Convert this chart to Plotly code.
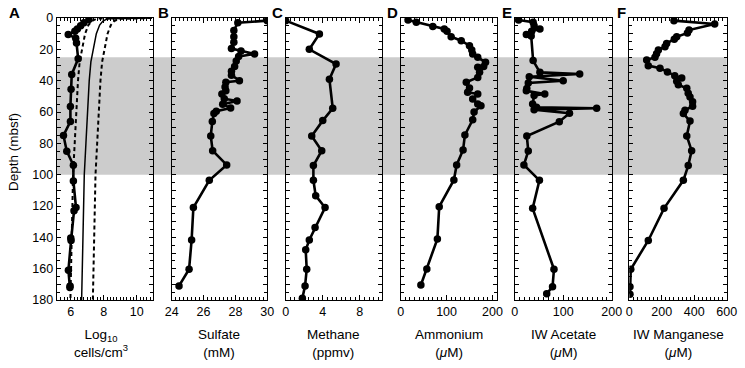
import plotly.graph_objects as go

# ---------------- data ----------------
# Panel A: cell counts (log10 cells/cm3)
cells_depth = [1.0, 3.0, 5.0, 7.0, 8.5, 10.5, 13.0, 16.0, 26.0, 36.0, 45.5, 56.5, 66.0, 75.0, 85.0,
               94.0, 104.0, 121.0, 123.0, 140.5, 142.0, 161.0, 171.0, 172.0]
cells_val = [7.1, 6.8, 6.6, 6.4, 6.25, 5.85, 6.3, 6.35, 6.45, 6.06, 6.02, 5.98, 5.98, 5.56, 5.76,
             6.16, 6.16, 6.32, 6.2, 6.0, 6.02, 5.86, 5.96, 5.95]
# regression line and prediction limits
reg_depth = [0, 0.4, 2, 4.5, 10, 20, 28, 40, 60, 80, 100, 140, 180]
reg_mid = [10.9, 8.25, 7.95, 7.75, 7.55, 7.35, 7.22, 7.12, 7.0, 6.92, 6.82, 6.73, 6.66]
reg_upper = [10.9, 8.95, 8.63, 8.43, 8.23, 8.03, 7.9, 7.8, 7.68, 7.6, 7.5, 7.41, 7.34]
reg_lower = [10.9, 7.57, 7.27, 7.07, 6.87, 6.67, 6.54, 6.44, 6.32, 6.24, 6.14, 6.05, 5.98]

# Panel B: sulfate (mM)
sulfate_depth = [1.7, 3, 8, 12, 15.5, 19.5, 21, 23, 24.5, 27.5, 31, 34, 36.5, 40, 41, 44, 46.5, 48.5,
                 51.5, 53, 55, 57.5, 59.5, 61, 66, 75.3, 84.7, 93.8, 103.6, 121, 141.7, 160.4, 171]
sulfate_val = [30.0, 28.15, 27.9, 27.9, 27.9, 27.75, 28.35, 29.2, 28.2, 28.05, 27.95, 27.75, 27.75,
               28.25, 27.4, 27.35, 27.4, 27.15, 27.3, 28.1, 27.2, 27.7, 26.8, 26.65, 26.55, 26.45,
               26.57, 27.45, 26.36, 25.36, 25.25, 25.09, 24.46]

# Panel C: methane (ppmv)
methane_depth = [1.7, 10.2, 20, 29.4, 39.1, 57.6, 65.5, 75.3, 84.7, 94.2, 103.6, 113.4, 121, 133.8,
                 141.7, 148, 160.4, 171, 178.9]
methane_val = [0.0, 3.64, 2.55, 5.44, 4.72, 5.08, 4.0, 2.81, 3.89, 2.99, 2.99, 3.24, 4.25, 3.17,
               2.55, 2.16, 2.27, 2.09, 1.8]

# Panel D: ammonium (uM)
ammonium_depth = [1.3, 2.7, 5.5, 7, 8.5, 11.9, 14.5, 17.7, 20.4, 23, 25.1, 28.3, 31, 31.5, 34.7, 37.9,
                  41, 44.7, 47.4, 48.5, 51.7, 54.9, 56, 60, 65, 74.7, 84.2, 93.8, 103.4, 120.4, 141,
                  160.2, 170.4]
ammonium_val = [16, 34, 70, 95, 101, 110, 132, 150, 155, 157, 168, 185, 181, 168, 172, 168, 143, 150,
                146, 168, 157, 168, 175, 160, 157, 140, 136, 122, 116, 84, 80, 57, 44]

# Panel E: IW acetate (uM)
acetate_depth = [1.3, 2.7, 5, 7, 8.5, 10.6, 11.5, 27.2, 34.7, 35.7, 37.5, 40.1, 41.5, 45, 46.5, 48.5,
                 49.5, 54.9, 57, 57.6, 58.5, 60.8, 66.2, 75.3, 84.9, 93.8, 103.6, 121.5, 160.4, 171.5,
                 176]
acetate_val = [8, 38, 40, 52, 35, 24, 34, 38, 52, 134, 30, 100, 28, 25, 24, 62, 40, 37, 45, 169, 40,
               113, 92, 25, 28, 19, 51, 37, 81, 78, 66]

# Panel F: IW manganese (uM)
manganese_depth = [1.7, 3.8, 7.7, 9.5, 12, 13.5, 16.2, 18.3, 20.4, 22.8, 25, 26.8, 30.4, 32, 34.5,
                   36.8, 38.3, 40.3, 42.6, 44.9, 48, 50.5, 53.5, 56.3, 58.9, 61, 65.8, 75.3, 84.7,
                   94.2, 103.6, 121.5, 142, 160.4, 171.5, 176.3]
manganese_val = [275, 526, 368, 358, 292, 277, 230, 220, 179, 168, 158, 107, 117, 189, 235, 280, 323,
                 292, 302, 354, 363, 374, 390, 390, 343, 333, 374, 354, 384, 363, 333, 214, 117, 9,
                 4, 4]

panel_letters = ["A", "B", "C", "D", "E", "F"]
x_titles = ["Log<sub>10</sub><br>cells/cm<sup>3</sup>", "Sulfate<br>(mM)", "Methane<br>(ppmv)",
            "Ammonium<br>(<i>μ</i>M)", "IW Acetate<br>(<i>μ</i>M)", "IW Manganese<br>(<i>μ</i>M)"]
x_ranges = [[5.15, 11], [24, 30], [0, 10.4], [0, 210], [0, 200], [0, 600]]
x_dticks = [2, 2, 4, 100, 100, 200]
x_minor = [0.2, 0.25, 0.5, 10, 10, 25]
shade_band = [25, 100]
depth_range = [180, 0]

# ---------------- layout helpers ----------------
W, H = 745, 368
px_left = [56.7, 171.7, 285.7, 400.7, 514.7, 629.3]
px_right = [153.3, 267.3, 382.0, 497.0, 611.7, 726.7]
py_top, py_bot = 18, 300
FONT = "Liberation Sans, Arial, Helvetica, sans-serif"

fig = go.Figure()

def add_series(i, x, y, **kw):
    fig.add_trace(go.Scatter(x=x, y=y, xaxis="x" if i == 0 else f"x{i+1}",
                             yaxis="y" if i == 0 else f"y{i+1}", showlegend=False,
                             cliponaxis=True, **kw))

dot = dict(mode="lines+markers", line=dict(color="black", width=2.6),
           marker=dict(color="black", size=7.5))

# panel A curves
add_series(0, reg_lower, reg_depth, mode="lines", line=dict(color="black", width=2, dash="4px,3px"))
add_series(0, reg_upper, reg_depth, mode="lines", line=dict(color="black", width=2, dash="4px,3px"))
add_series(0, reg_mid, reg_depth, mode="lines", line=dict(color="black", width=1.5))
add_series(0, cells_val, cells_depth, **dot)
add_series(1, sulfate_val, sulfate_depth, **dot)
add_series(2, methane_val, methane_depth, **dot)
add_series(3, ammonium_val, ammonium_depth, **dot)
add_series(4, acetate_val, acetate_depth, **dot)
add_series(5, manganese_val, manganese_depth, **dot)

layout = dict(width=W, height=H, margin=dict(l=0, r=0, t=0, b=0, autoexpand=False),
              paper_bgcolor="white", plot_bgcolor="rgba(0,0,0,0)",
              font=dict(family=FONT, size=12, color="black"), showlegend=False)

ydom = [1 - py_bot / H, 1 - py_top / H]
annotations = []
for i in range(6):
    xs = "xaxis" if i == 0 else f"xaxis{i+1}"
    ys = "yaxis" if i == 0 else f"yaxis{i+1}"
    layout[xs] = dict(domain=[px_left[i] / W, px_right[i] / W], range=x_ranges[i],
                      anchor="y" if i == 0 else f"y{i+1}", automargin=False,
                      dtick=x_dticks[i], tick0=0, ticks="inside", ticklen=5, tickwidth=1,
                      tickcolor="black", showline=True, linecolor="black", linewidth=1,
                      mirror="allticks", showgrid=False, zeroline=False,
                      tickfont=dict(size=12.5, family=FONT),
                      minor=dict(dtick=x_minor[i], ticks="inside", ticklen=3, tickwidth=1,
                                 tickcolor="black", showgrid=False))
    layout[ys] = dict(domain=ydom, range=depth_range, anchor="x" if i == 0 else f"x{i+1}",
                      automargin=False,
                      dtick=10, tick0=0, ticklabelstep=2, ticks="inside", ticklen=4, tickwidth=1,
                      tickcolor="black", showline=True, linecolor="black", linewidth=1,
                      mirror="allticks", showgrid=False, zeroline=False,
                      showticklabels=(i == 0), tickfont=dict(size=12.5, family=FONT),
                      minor=dict(dtick=5, ticks="inside", ticklen=3, tickwidth=1,
                                 tickcolor="black", showgrid=False))
    # panel letter
    annotations.append(dict(text=f"<b>{panel_letters[i]}</b>", xref="paper", yref="paper",
                            x=(px_left[i] - 1) / W if i > 0 else 15 / W, y=1 - 13 / H,
                            xanchor="right" if i > 0 else "center", yanchor="middle",
                            showarrow=False, font=dict(size=15, family=FONT)))
    # x title
    cx = (px_left[i] + px_right[i]) / 2 if i > 0 else 101
    annotations.append(dict(text=x_titles[i], xref="paper", yref="paper", x=cx / W,
                            y=1 - 325 / H, xanchor="center", yanchor="top", showarrow=False,
                            font=dict(size=13.5, family=FONT)))

annotations.append(dict(text="Depth (mbsf)", xref="paper", yref="paper", x=13 / W,
                        y=1 - 152 / H, textangle=-90, xanchor="center", yanchor="middle",
                        showarrow=False, font=dict(size=13.5, family=FONT)))
layout["annotations"] = annotations
layout["shapes"] = [dict(type="rect", xref="paper", yref="y", x0=px_left[0] / W, x1=px_right[5] / W,
                         y0=shade_band[0], y1=shade_band[1], fillcolor="#cccccc",
                         line=dict(width=0), layer="below")]
fig.update_layout(**layout)
fig.write_html("out.html", config={"displayModeBar": False},
               post_script="document.body.style.margin='0';document.body.style.overflow='hidden';")
